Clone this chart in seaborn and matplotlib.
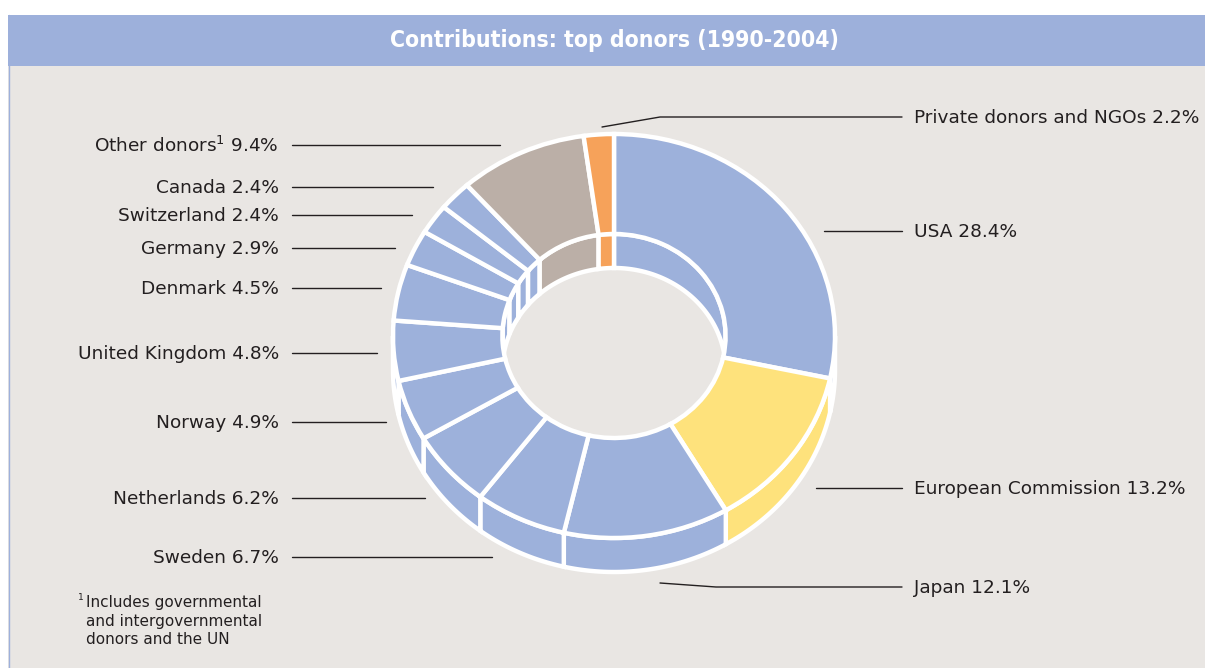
import numpy as np
import pandas as pd
import seaborn as sns
import matplotlib.pyplot as plt
from matplotlib.patches import Rectangle

#%% Data
donors = ['USA', 'European Commission', 'Japan', 'Sweden', 'Netherlands', 'Norway',
          'United Kingdom', 'Denmark', 'Germany', 'Switzerland', 'Canada',
          'Other donors', 'Private donors and NGOs']
shares = [28.4, 13.2, 12.1, 6.7, 6.2, 4.9, 4.8, 4.5, 2.9, 2.4, 2.4, 9.4, 2.2]
donor_group = ['gov', 'ec', 'gov', 'gov', 'gov', 'gov', 'gov', 'gov', 'gov', 'gov',
               'gov', 'other', 'private']

title = 'Contributions: top donors (1990-2004)'
footnote = 'Includes governmental\nand intergovernmental\ndonors and the UN'

#%% Style / layout
plt_colors = {'gov': '#9db1db', 'ec': '#fee27c', 'other': '#bbafa7', 'private': '#f6a25a'}
bg_panel = '#e9e6e3'
bg_header = '#9db0db'
txt_col = '#231f20'

# label anchors in figure pixels: (side, text y, leader line points)
label_layout = {
    'USA': ('right', 231, [(824, 231), (902, 231)]),
    'European Commission': ('right', 488, [(816, 488), (902, 488)]),
    'Japan': ('right', 587, [(660, 583), (716, 587), (902, 587)]),
    'Sweden': ('left', 557, [(292, 557), (492, 557)]),
    'Netherlands': ('left', 498, [(292, 498), (425, 498)]),
    'Norway': ('left', 422, [(292, 422), (386, 422)]),
    'United Kingdom': ('left', 353, [(292, 353), (377, 353)]),
    'Denmark': ('left', 288, [(292, 288), (381, 288)]),
    'Germany': ('left', 248, [(292, 248), (395, 248)]),
    'Switzerland': ('left', 215, [(292, 215), (412, 215)]),
    'Canada': ('left', 187, [(292, 187), (433, 187)]),
    'Other donors': ('left', 145, [(292, 145), (500, 145)]),
    'Private donors and NGOs': ('right', 117, [(602, 127), (660, 117), (902, 117)]),
}

W, H = 1205, 668
cx, cy = 614, 336          # centre of the top face (pixels)
rx, ry = 221, 202          # outer radii (pixels)
ring_width = 0.495
depth = 34 / ry
edge_lw = 3.2

sns.set_theme(style='white')
plt.rcParams['font.family'] = ['DejaVu Sans']
plt.rcParams['mathtext.fontset'] = 'dejavusans'
plt.rcParams['mathtext.default'] = 'regular'

df = pd.DataFrame({'donor': donors, 'share': shares, 'group': donor_group})
df['color'] = df['group'].map(plt_colors)

fig = plt.figure(figsize=(W / 100, H / 100), dpi=100)
fig.patch.set_facecolor('white')

# background axes in pixel units
ax_bg = fig.add_axes([0, 0, 1, 1])
ax_bg.set_xlim(0, W)
ax_bg.set_ylim(H, 0)
ax_bg.axis('off')
ax_bg.add_patch(Rectangle((8, 66), W - 8, H - 66, color=bg_panel, lw=0))
ax_bg.add_patch(Rectangle((8, 15), W - 8, 51, color=bg_header, lw=0))
ax_bg.plot([8.5, 8.5], [15, H], color=bg_header, lw=1)
ax_bg.text((8 + W) / 2 + 8, 41, title, color='white', fontsize=16.5, fontweight='bold',
           fontstretch='condensed', ha='center', va='center')

#%% Donut (top face + extruded walls)
l = (cx - 1.3 * rx) / W
b = (H - cy - 1.4 * ry) / H
ax = fig.add_axes([l, b, 2.6 * rx / W, 2.6 * ry / H])
ax.patch.set_alpha(0)
wedges, _ = ax.pie(df['share'], colors=df['color'], startangle=90, counterclock=False,
                   radius=1, wedgeprops=dict(width=ring_width, edgecolor='white', linewidth=edge_lw))
for w in wedges:
    w.set_zorder(3)


def overlap(t1, t2, lo, hi):
    out = []
    for k in range(-2, 3):
        a, c = max(t1, lo + 360 * k), min(t2, hi + 360 * k)
        if c > a:
            out.append((a, c))
    return out


r_in = 1 - ring_width
for w, col in zip(wedges, df['color']):
    # outer wall on the front half
    for a0, a1 in overlap(w.theta1, w.theta2, 180, 360):
        a = np.radians(np.linspace(a0, a1, 80))
        xs = np.r_[np.cos(a), np.cos(a[::-1])]
        ys = np.r_[np.sin(a), np.sin(a[::-1]) - depth]
        ax.fill(xs, ys, facecolor=col, edgecolor='white', lw=edge_lw, zorder=1)
    # inner wall visible at the back of the hole
    for a0, a1 in overlap(w.theta1, w.theta2, 0, 180):
        a = np.radians(np.linspace(a0, a1, 80))
        xs = r_in * np.r_[np.cos(a), np.cos(a[::-1])]
        ys = np.r_[r_in * np.sin(a), r_in * np.sin(a[::-1]) - depth]
        ax.fill(xs, ys, facecolor=col, edgecolor='white', lw=edge_lw, zorder=2)

ax.set_aspect('auto')
ax.set_xlim(-1.3, 1.3)
ax.set_ylim(-1.4, 1.2)
ax.axis('off')

#%% Labels and leader lines
for name, share in zip(df['donor'], df['share']):
    side, ty, pts = label_layout[name]
    px, py = zip(*pts)
    ax_bg.plot(px, py, color=txt_col, lw=1)
    shown = f'{name}$^1$ {share}%' if name == 'Other donors' else f'{name} {share}%'
    if side == 'left':
        ax_bg.text(279, ty + 1, shown, ha='right', va='center', fontsize=13.3, color=txt_col)
    else:
        ax_bg.text(914, ty + 1, shown, ha='left', va='center', fontsize=13.3, color=txt_col)

ax_bg.text(78, 598, '1', fontsize=6.5, color=txt_col, ha='left', va='center')
ax_bg.text(86, 595, footnote, fontsize=11, color=txt_col, ha='left', va='top',
           linespacing=1.3)

fig.savefig('out.png', dpi=100)
